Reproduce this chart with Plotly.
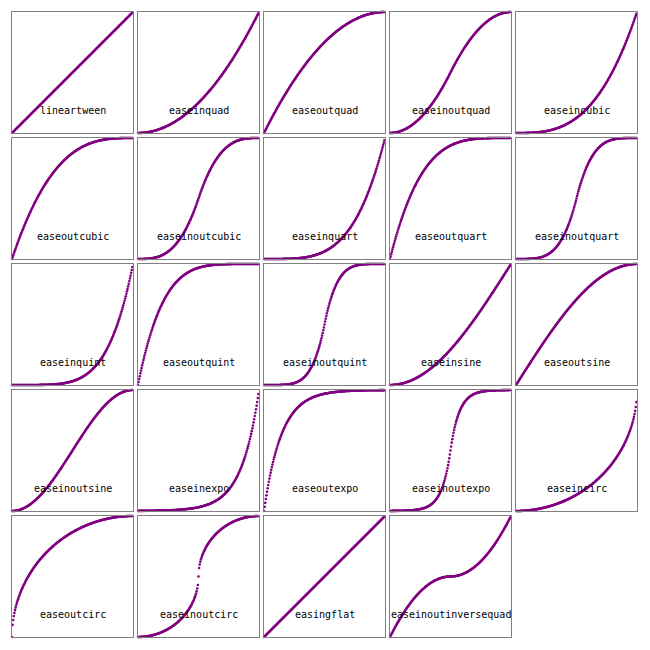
import numpy as np
import plotly.graph_objects as go

# Panel titles (easing function names), in reading order
names = [
    "lineartween", "easeinquad", "easeoutquad", "easeinoutquad", "easeincubic",
    "easeoutcubic", "easeinoutcubic", "easeinquart", "easeoutquart", "easeinoutquart",
    "easeinquint", "easeoutquint", "easeinoutquint", "easeinsine", "easeoutsine",
    "easeinoutsine", "easeinexpo", "easeoutexpo", "easeinoutexpo", "easeincirc",
    "easeoutcirc", "easeinoutcirc", "easingflat", "easeinoutinversequad",
]

# Sample positions along the time axis (200 samples, step 0.005)
t = np.arange(200) / 200.0


def inout(fin, x):
    return np.where(x < 0.5, fin(2 * x) / 2, 1 - fin(2 - 2 * x) / 2)


easings = {
    "lineartween": lambda x: x,
    "easeinquad": lambda x: x ** 2,
    "easeoutquad": lambda x: 1 - (1 - x) ** 2,
    "easeinoutquad": lambda x: inout(lambda u: u ** 2, x),
    "easeincubic": lambda x: x ** 3,
    "easeoutcubic": lambda x: 1 - (1 - x) ** 3,
    "easeinoutcubic": lambda x: inout(lambda u: u ** 3, x),
    "easeinquart": lambda x: x ** 4,
    "easeoutquart": lambda x: 1 - (1 - x) ** 4,
    "easeinoutquart": lambda x: inout(lambda u: u ** 4, x),
    "easeinquint": lambda x: x ** 5,
    "easeoutquint": lambda x: 1 - (1 - x) ** 5,
    "easeinoutquint": lambda x: inout(lambda u: u ** 5, x),
    "easeinsine": lambda x: 1 - np.cos(x * np.pi / 2),
    "easeoutsine": lambda x: np.sin(x * np.pi / 2),
    "easeinoutsine": lambda x: -(np.cos(np.pi * x) - 1) / 2,
    "easeinexpo": lambda x: np.where(x == 0, 0, 2.0 ** (10 * (x - 1))),
    "easeoutexpo": lambda x: 1 - 2.0 ** (-10 * x),
    "easeinoutexpo": lambda x: np.where(
        x == 0, 0, np.where(x < 0.5, 2.0 ** (20 * x - 10) / 2, (2 - 2.0 ** (-20 * x + 10)) / 2)),
    "easeincirc": lambda x: 1 - np.sqrt(1 - x ** 2),
    "easeoutcirc": lambda x: np.sqrt(1 - (x - 1) ** 2),
    "easeinoutcirc": lambda x: inout(lambda u: 1 - np.sqrt(np.clip(1 - u ** 2, 0, None)), x),
    "easingflat": lambda x: x,
    "easeinoutinversequad": lambda x: np.where(
        x < 0.5, 0.5 * (1 - (1 - 2 * x) ** 2), 0.5 + 0.5 * (2 * x - 1) ** 2),
}

W = H = 650
fig = go.Figure()
layout = dict(
    width=W, height=H, margin=dict(l=0, r=0, t=0, b=0),
    paper_bgcolor="white", plot_bgcolor="white", showlegend=False,
    annotations=[],
)

for k, name in enumerate(names):
    r, c = divmod(k, 5)
    n = "" if k == 0 else str(k + 1)
    x0 = 12 + 126 * c
    y0 = 12 + 126 * r
    xd = [x0 / W, (x0 + 121) / W]
    yd = [1 - (y0 + 121) / H, 1 - y0 / H]
    y = easings[name](t)
    fig.add_trace(go.Scatter(
        x=t, y=y, mode="markers", xaxis="x" + n, yaxis="y" + n,
        marker=dict(size=2.6, color="#800080", line=dict(width=0)),
        cliponaxis=False, hoverinfo="skip",
    ))
    ax = dict(range=[0, 1], showgrid=False, zeroline=False, showticklabels=False,
              ticks="", showline=True, mirror=True, linecolor="#808080", linewidth=1,
              fixedrange=True)
    layout["xaxis" + n] = dict(ax, domain=xd, anchor="y" + n)
    layout["yaxis" + n] = dict(ax, domain=yd, anchor="x" + n)
    layout["annotations"].append(dict(
        text=name, x=0.5, y=0.19, xref="x" + n + " domain", yref="y" + n + " domain",
        showarrow=False, xanchor="center", yanchor="middle",
        font=dict(family="DejaVu Sans Mono", size=10, color="black"),
    ))

fig.update_layout(**layout)
fig.write_html("out.html")
